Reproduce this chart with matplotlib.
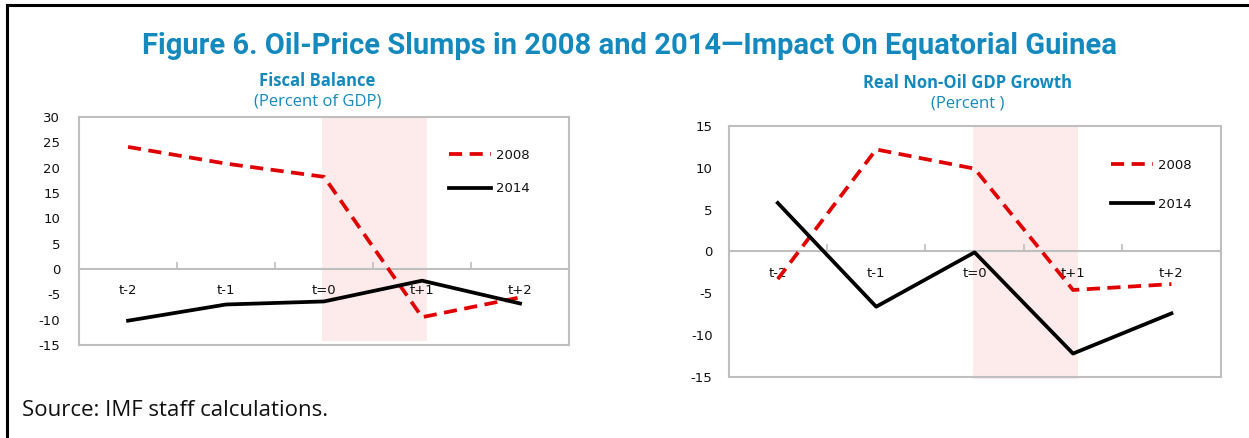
import matplotlib.pyplot as plt
from matplotlib.lines import Line2D

plt.rcParams['axes.unicode_minus'] = False

# data
periods = ["t-2", "t-1", "t=0", "t+1", "t+2"]
fiscal_2008 = [24.1, 20.8, 18.2, -9.5, -5.6]
fiscal_2014 = [-10.2, -7.0, -6.4, -2.3, -6.8]
growth_2008 = [-3.3, 12.2, 9.9, -4.6, -3.9]
growth_2014 = [5.8, -6.6, -0.1, -12.2, -7.4]
series_names = ["2008", "2014"]

blue = "#1489BE"
grey = "#BFBFBF"
red = "#E00000"

fig = plt.figure(figsize=(12.49, 4.38), dpi=100)

# outer frame (top and left black rules)
fig.add_artist(Line2D([0.0056, 1.0], [0.988, 0.988], color="black", lw=2.2, transform=fig.transFigure))
fig.add_artist(Line2D([0.0056, 0.0056], [0.988, 0.0], color="black", lw=2.2, transform=fig.transFigure))

fig.text(0.504, 0.896, "Figure 6. Oil-Price Slumps in 2008 and 2014\u2014Impact On Equatorial Guinea",
         ha="center", va="center", color=blue, fontsize=21, fontweight="bold",
         family=["Liberation Sans Narrow", "Roboto"])
fig.text(0.018, 0.063, "Source: IMF staff calculations.", ha="left", va="center",
         fontsize=16, family="Open Sans", color="#111111")


def panel(rect, y2008, y2014, ylim, yticks, title, subtitle, title_xy, leg_anchor, leg_gap, shade_ymin, ypad):
    ax = fig.add_axes(rect)
    x = list(range(len(periods)))
    ax.axvspan(1.98, 3.05, ymin=shade_ymin, ymax=1.0, color="#FDEBEB", lw=0, zorder=1, clip_on=False)
    ax.plot(x, y2008, color=red, lw=2.7, ls=(0, (3.5, 2.0)), label=series_names[0], zorder=3)
    ax.plot(x, y2014, color="black", lw=2.7, label=series_names[1], zorder=3)
    ax.set_xlim(-0.5, 4.5)
    ax.set_ylim(*ylim)
    ax.set_yticks(yticks)
    ax.set_xticks([])
    ax.tick_params(axis="y", length=0, pad=ypad, labelsize=9.5, labelcolor="#111111")
    for s in ax.spines.values():
        s.set_color(grey)
        s.set_linewidth(1.5)

    # category axis crossing at zero
    zero = (0 - ylim[0]) / (ylim[1] - ylim[0])
    sec = ax.secondary_xaxis(zero)
    sec.set_alignment("bottom")
    sec.set_zorder(1.5)
    sec.set_xticks(x, labels=periods)
    sec.set_xticks([0.5, 1.5, 2.5, 3.5], minor=True)
    sec.tick_params(which="major", length=0, pad=11, labelsize=9.5, labelcolor="#111111")
    sec.tick_params(which="minor", length=5, direction="in", width=1.2, color=grey)
    for side in ("top", "bottom"):
        sec.spines[side].set_color(grey)
        sec.spines[side].set_linewidth(1.5)
    sec.spines["top"].set_visible(False)

    leg = ax.legend(loc="upper left", bbox_to_anchor=leg_anchor, frameon=False, fontsize=9.5,
                    handlelength=3.2, handletextpad=0.35, labelspacing=leg_gap,
                    borderpad=0, borderaxespad=0)
    for t in leg.get_texts():
        t.set_color("#111111")

    fig.text(title_xy[0], title_xy[1], title, ha="center", va="center", color=blue,
             fontsize=12, fontweight="bold", family="Open Sans")
    fig.text(title_xy[0], title_xy[1] - 0.047, subtitle, ha="center", va="center", color=blue,
             fontsize=12, family="Open Sans")
    return ax


panel([0.0633, 0.2123, 0.3923, 0.5205], fiscal_2008, fiscal_2014, (-15, 30),
      range(-15, 31, 5), "Fiscal Balance", "(Percent of GDP)", (0.254, 0.815),
      (0.755, 0.86), 1.55, 0.018, 13.5)
panel([0.5833, 0.1393, 0.394, 0.573], growth_2008, growth_2014, (-15, 15),
      range(-15, 16, 5), "Real Non-Oil GDP Growth", "(Percent )", (0.775, 0.81),
      (0.777, 0.87), 2.0, -0.01, 11.5)

fig.savefig("out.png", dpi=100)
